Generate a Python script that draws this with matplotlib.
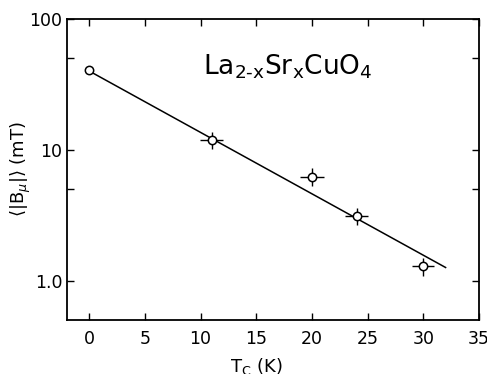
import matplotlib
matplotlib.use("Agg")
import matplotlib.pyplot as plt
from matplotlib.ticker import FixedLocator, NullLocator

# Data
tc = [0, 11, 20, 24, 30]
b_mu = [41, 11.9, 6.25, 3.13, 1.29]
tc_err = [0, 1.05, 1.05, 1.0, 1.0]
b_err = [0, 1.8, 0.95, 0.48, 0.2]

# Straight-line fit (on log scale)
fit_tc = [0, 32]
fit_b = [40, 1.26]

y_ticks = [1, 10, 100]
y_ticklabels = ["1.0", "10", "100"]
y_minor = [5, 50]
x_ticks = [0, 5, 10, 15, 20, 25, 30, 35]

fig = plt.figure(figsize=(4.87, 3.74), dpi=100)
ax = fig.add_axes([67 / 487, 1 - 320 / 374, (479 - 67) / 487, (320 - 19) / 374])

ax.plot(fit_tc, fit_b, color="black", lw=1.1, zorder=2)
ax.errorbar(tc[1:], b_mu[1:], xerr=tc_err[1:], yerr=b_err[1:], fmt="none",
            ecolor="black", elinewidth=1.0, capsize=0, zorder=3)
ax.plot(tc, b_mu, "o", mfc="white", mec="black", mew=1.1, ms=6, zorder=4)

ax.set_yscale("log")
ax.set_xlim(-2, 35)
ax.set_ylim(0.5, 100)

ax.yaxis.set_major_locator(FixedLocator(y_ticks))
ax.set_yticklabels(y_ticklabels)
ax.yaxis.set_minor_locator(FixedLocator(y_minor))
ax.yaxis.set_minor_formatter(plt.NullFormatter())
ax.set_xticks(x_ticks)
ax.xaxis.set_minor_locator(NullLocator())

ax.tick_params(which="both", direction="in", top=True, right=True,
               length=5, width=1.0, labelsize=12.5)
ax.tick_params(axis="x", pad=7)
for s in ax.spines.values():
    s.set_linewidth(1.3)

ax.text(0.535, 0.84, r"La$_{\mathrm{2}\text{-}\mathrm{x}}$Sr$_{\mathrm{x}}$CuO$_4$",
        transform=ax.transAxes, ha="center", va="center", fontsize=19)

ax.set_xlabel(r"T$_\mathrm{C}$ (K)", fontsize=13)
ax.xaxis.set_label_coords((89 + 11.16 * 15 - 67) / 412, -(356 - 320) / 301)
ax.set_ylabel(r"$\langle|\mathrm{B}_\mu|\rangle$ (mT)", fontsize=13)
ax.yaxis.set_label_coords(-(67 - 33) / 412, 0.5)

fig.savefig("out.png", dpi=100)
